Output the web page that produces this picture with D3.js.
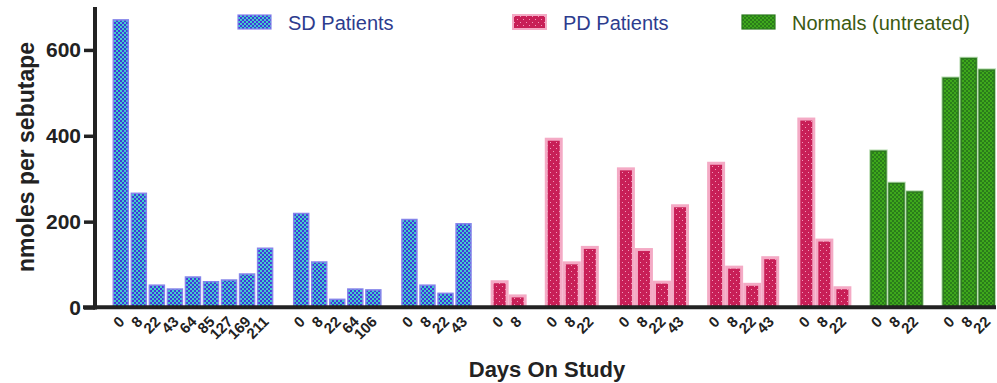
<!DOCTYPE html>
<html>
<head>
<meta charset="utf-8">
<script src="https://cdn.jsdelivr.net/npm/d3@7"></script>
<style>
  body { margin: 0; background: #fff; }
  svg { display: block; font-family: "Liberation Sans", Arial, Helvetica, sans-serif; }
</style>
</head>
<body>
<div id="chart"></div>
<script>
// days on study for each patient (tick labels) and measured values
const sdDays = [[0, 8, 22, 43, 64, 85, 127, 169, 211], [0, 8, 22, 64, 106], [0, 8, 22, 43]]
const sdValues = [[670, 266, 52, 43, 71, 60, 64, 78, 138], [219, 106, 19, 43, 41], [205, 52, 33, 195]]
const pdDays = [[0, 8], [0, 8, 22], [0, 8, 22, 43], [0, 8, 22, 43], [0, 8, 22]]
const pdValues = [[60, 27], [392, 104, 140], [323, 135, 59, 237], [336, 94, 54, 116], [439, 157, 46]]
const normalDays = [[0, 8, 22], [0, 8, 22]]
const normalValues = [[364, 289, 269], [534, 580, 553]]
const yTicks = [0, 200, 400, 600]
const seriesNames = ['SD Patients', 'PD Patients', 'Normals (untreated)']

const width = 997
const height = 383

// flatten into slots, one empty slot between each patient
let bars = []
let slots = []
let gi = 0
function addGroups(days, values, series) {
    days.forEach(function(ds, i) {
        if (slots.length) slots.push('gap' + gi)
        ds.forEach(function(d, j) {
            let key = 'g' + gi + '_' + j
            slots.push(key)
            bars.push({key: key, day: d, value: values[i][j], series: series})
        })
        gi++
    })
}
addGroups(sdDays, sdValues, 0)
addGroups(pdDays, pdValues, 1)
addGroups(normalDays, normalValues, 2)

let x = d3.scaleBand().domain(slots).range([111.5, 996]).paddingInner(0.17).paddingOuter(0.1)
let y = d3.scaleLinear().domain([0, 700]).range([307.5, 7])

let svg = d3.select('#chart').append('svg')
    .attr('width', width)
    .attr('height', height)

let defs = svg.append('defs')

// SD: blue / cyan checker
let p1 = defs.append('pattern').attr('id', 'pat-sd').attr('patternUnits', 'userSpaceOnUse')
    .attr('width', 4).attr('height', 4)
p1.append('rect').attr('width', 4).attr('height', 4).attr('fill', '#3fcfc8')
p1.append('rect').attr('width', 2).attr('height', 2).attr('fill', '#4436dc')
p1.append('rect').attr('x', 2).attr('y', 2).attr('width', 2).attr('height', 2).attr('fill', '#4436dc')

// PD: crimson with pink dots
let p2 = defs.append('pattern').attr('id', 'pat-pd').attr('patternUnits', 'userSpaceOnUse')
    .attr('width', 6).attr('height', 6)
p2.append('rect').attr('width', 6).attr('height', 6).attr('fill', '#c81f57')
p2.append('rect').attr('x', 1).attr('y', 1).attr('width', 1).attr('height', 1).attr('fill', '#f19abb')
p2.append('rect').attr('x', 4).attr('y', 4).attr('width', 1).attr('height', 1).attr('fill', '#f19abb')

// Normals: fine green checker
let p3 = defs.append('pattern').attr('id', 'pat-n').attr('patternUnits', 'userSpaceOnUse')
    .attr('width', 4).attr('height', 4)
p3.append('rect').attr('width', 4).attr('height', 4).attr('fill', '#3ea81c')
p3.append('rect').attr('width', 2).attr('height', 2).attr('fill', '#2a7d1a')
p3.append('rect').attr('x', 2).attr('y', 2).attr('width', 2).attr('height', 2).attr('fill', '#2a7d1a')

defs.selectAll('pattern rect').attr('shape-rendering', 'crispEdges')

let styles = [
    {fill: 'url(#pat-sd)', stroke: '#8484ea', sw: 1.5, text: '#2d3c8e'},
    {fill: 'url(#pat-pd)', stroke: '#f4aac5', sw: 3, text: '#2d3c8e'},
    {fill: 'url(#pat-n)', stroke: '#2c7a1e', sw: 1.5, text: '#3b5a12'}
]

// bars
let bw = x.bandwidth()
svg.selectAll('.bar-halo')
    .data(bars.filter(function(d) { return d.series == 2 }))
    .enter().append('rect')
    .attr('x', function(d) { return x(d.key) - 1 })
    .attr('y', function(d) { return y(d.value) - 1 })
    .attr('width', bw + 2)
    .attr('height', function(d) { return y(0) - y(d.value) + 1 })
    .attr('fill', 'none')
    .attr('stroke', '#b7dcb0')
    .attr('stroke-width', 1.5)

svg.selectAll('.bar')
    .data(bars)
    .enter().append('rect')
    .attr('class', 'bar')
    .attr('x', function(d) { return x(d.key) })
    .attr('y', function(d) { return y(d.value) })
    .attr('width', bw)
    .attr('height', function(d) { return y(0) - y(d.value) })
    .attr('fill', function(d) { return styles[d.series].fill })
    .attr('stroke', function(d) { return styles[d.series].stroke })
    .attr('stroke-width', function(d) { return styles[d.series].sw })

// y axis
let yAxis = svg.append('g')
    .attr('transform', 'translate(95,0)')
    .call(d3.axisLeft(y).tickValues(yTicks).tickSize(11).tickPadding(3))
yAxis.select('.domain').remove()
yAxis.selectAll('line').attr('stroke', '#222').attr('stroke-width', 3.5)
yAxis.selectAll('text')
    .attr('fill', '#222')
    .style('font-size', '21px')
    .style('font-weight', 'bold')
svg.append('line')
    .attr('x1', 95).attr('x2', 95)
    .attr('y1', 7).attr('y2', 309.5)
    .attr('stroke', '#222').attr('stroke-width', 4)

// x axis baseline
svg.append('line')
    .attr('x1', 83).attr('x2', 996)
    .attr('y1', 307.3).attr('y2', 307.3)
    .attr('stroke', '#222').attr('stroke-width', 4)

// x tick labels (days)
svg.selectAll('.day')
    .data(bars)
    .enter().append('text')
    .attr('class', 'day')
    .attr('transform', function(d) {
        return 'translate(' + (x(d.key) + bw / 2 - 3) + ',315) rotate(-45)'
    })
    .attr('text-anchor', 'end')
    .attr('dy', '0.72em')
    .attr('fill', '#222')
    .style('font-size', '15px')
    .style('font-weight', 'bold')
    .text(function(d) { return d.day })

// axis titles
svg.append('text')
    .attr('transform', 'translate(34,157) rotate(-90)')
    .attr('text-anchor', 'middle')
    .attr('fill', '#222')
    .style('font-size', '23px')
    .style('font-weight', 'bold')
    .text('nmoles per sebutape')

svg.append('text')
    .attr('x', 547).attr('y', 377)
    .attr('text-anchor', 'middle')
    .attr('fill', '#222')
    .style('font-size', '22px')
    .style('font-weight', 'bold')
    .text('Days On Study')

// legend
let legendX = [238, 513, 742]
let legend = svg.selectAll('.legend')
    .data(seriesNames)
    .enter().append('g')
    .attr('class', 'legend')
    .attr('transform', function(d, i) { return 'translate(' + legendX[i] + ',15)' })
legend.append('rect')
    .attr('width', 33).attr('height', 14)
    .attr('fill', function(d, i) { return styles[i].fill })
    .attr('stroke', function(d, i) { return styles[i].stroke })
    .attr('stroke-width', function(d, i) { return i == 1 ? 2 : 1.2 })
legend.append('text')
    .attr('x', 50).attr('y', 15)
    .attr('fill', function(d, i) { return styles[i].text })
    .style('font-size', '20px')
    .text(function(d) { return d })
</script>
</body>
</html>
